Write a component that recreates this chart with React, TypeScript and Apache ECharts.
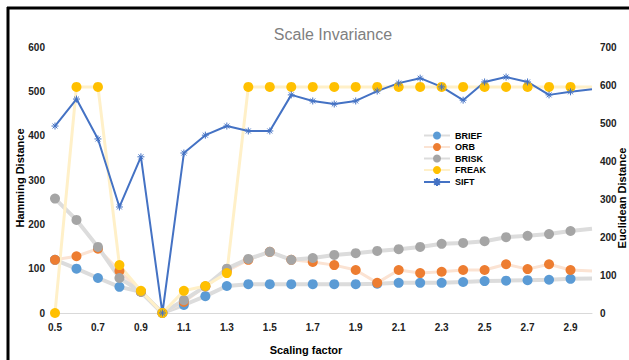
import React, { useEffect, useRef } from "react";
import * as echarts from "echarts";

const categories = ["0.5","0.6","0.7","0.8","0.9","1.0","1.1","1.2","1.3","1.4","1.5","1.6","1.7","1.8","1.9","2.0","2.1","2.2","2.3","2.4","2.5","2.6","2.7","2.8","2.9","3.0"];
const brief = [120,100,79,59,48,0,18,38,61,65,65,65,65,65,65,66,68,68,68,70,72,73,74,75,77,78];
const orb = [120,128,145,95,48,0,25,60,95,120,138,120,115,108,97,68,97,90,93,97,97,110,99,110,97,95];
const brisk = [258,210,149,79,48,0,29,60,100,122,138,120,124,131,135,140,144,149,156,158,162,171,174,178,185,190];
const freak = [0,510,510,108,50,0,50,61,90,510,510,510,510,510,510,510,510,510,510,510,510,510,510,510,510,510];
const sift = [492,563,458,279,411,0,421,468,492,479,479,574,558,550,558,584,605,618,595,560,608,621,608,574,582,589];
const leftTicks = { min: 0, max: 600, interval: 100 };
const rightTicks = { min: 0, max: 700, interval: 100 };

const FONT = "'Liberation Sans Narrow', 'Liberation Sans', Arial, sans-serif";
const STAR = "path://M0,5 L10,5 M5,0 L5,10 M1.5,1.5 L8.5,8.5 M8.5,1.5 L1.5,8.5";

function pts(arr: number[]) {
  return arr.map((v, i) => (i === arr.length - 1 ? { value: v, symbol: "none" } : v));
}

export default function App() {
  const ref = useRef<HTMLDivElement>(null);
  useEffect(() => {
    if (!ref.current) return;
    const chart = echarts.init(ref.current, undefined, { renderer: "svg" });
    const dotSeries = (name: string, data: number[], marker: string, line: string, lw: number) => ({
      name,
      type: "line",
      yAxisIndex: 0,
      data: pts(data),
      symbol: "circle",
      symbolSize: 10,
      showAllSymbol: true,
      itemStyle: { color: marker, borderWidth: 0 },
      lineStyle: { color: line, width: lw },
      emphasis: { disabled: true },
    });
    const nameStyle = { fill: "#000", font: `bold 11px ${FONT}`, textAlign: "center", textVerticalAlign: "middle" };
    chart.setOption({
      animation: false,
      grid: { left: 55, right: 37, top: 47, bottom: 47 },
      graphic: [
        { type: "line", shape: { x1: 8, y1: 7, x2: 8, y2: 360 }, style: { stroke: "#000", lineWidth: 3 } },
        { type: "line", shape: { x1: 7, y1: 8, x2: 629, y2: 8 }, style: { stroke: "#000", lineWidth: 3 } },
        {
          type: "text",
          x: 333,
          y: 34,
          style: { text: "Scale Invariance", fill: "#7f7f7f", font: `16px ${FONT}`, textAlign: "center", textVerticalAlign: "middle" },
        },
        { type: "text", x: 20, y: 178, rotation: Math.PI / 2, style: { text: "Hamming Distance", ...nameStyle } },
        { type: "text", x: 622, y: 198, rotation: Math.PI / 2, style: { text: "Euclidean Distance", ...nameStyle } },
        { type: "text", x: 306, y: 350, style: { text: "Scaling factor", ...nameStyle } },
      ],
      legend: {
        orient: "vertical",
        left: 418,
        top: 126,
        itemGap: 2.5,
        itemWidth: 26,
        itemHeight: 10,
        textStyle: { fontSize: 9, fontWeight: "bold", color: "#000", fontFamily: FONT },
        data: ["BRIEF", "ORB", "BRISK", "FREAK", "SIFT"],
      },
      xAxis: {
        type: "category",
        data: categories,
        boundaryGap: false,
        axisLine: { lineStyle: { color: "#d9d9d9", width: 1 } },
        axisTick: { show: false },
        axisLabel: { interval: 1, fontSize: 10, fontWeight: "bold", color: "#222", margin: 9, fontFamily: FONT },
        splitLine: { show: false },
      },
      yAxis: [
        {
          type: "value",
          ...leftTicks,
          axisLine: { show: false },
          axisTick: { show: false },
          splitLine: { show: false },
          axisLabel: { fontSize: 10, fontWeight: "bold", color: "#222", margin: 10, fontFamily: FONT },
        },
        {
          type: "value",
          ...rightTicks,
          axisLine: { show: false },
          axisTick: { show: false },
          splitLine: { show: false },
          axisLabel: { fontSize: 10, fontWeight: "bold", color: "#222", margin: 8, fontFamily: FONT },
        },
      ],
      series: [
        dotSeries("BRIEF", brief, "#5B9BD5", "#dcdcdc", 4),
        dotSeries("ORB", orb, "#ED7D31", "#fbe3d3", 3),
        dotSeries("BRISK", brisk, "#A5A5A5", "#dcdcdc", 4),
        dotSeries("FREAK", freak, "#FFC000", "#fff0c8", 3),
        {
          name: "SIFT",
          type: "line",
          yAxisIndex: 1,
          data: pts(sift),
          symbol: STAR,
          symbolSize: 7,
          showAllSymbol: true,
          itemStyle: { color: "#4472C4", borderColor: "#4472C4", borderWidth: 1 },
          lineStyle: { color: "#4472C4", width: 2 },
          emphasis: { disabled: true },
        },
      ],
    });
    return () => chart.dispose();
  }, []);
  return <div ref={ref} style={{ position: "fixed", left: 0, top: 0, width: 629, height: 360, background: "#fff" }} />;
}
